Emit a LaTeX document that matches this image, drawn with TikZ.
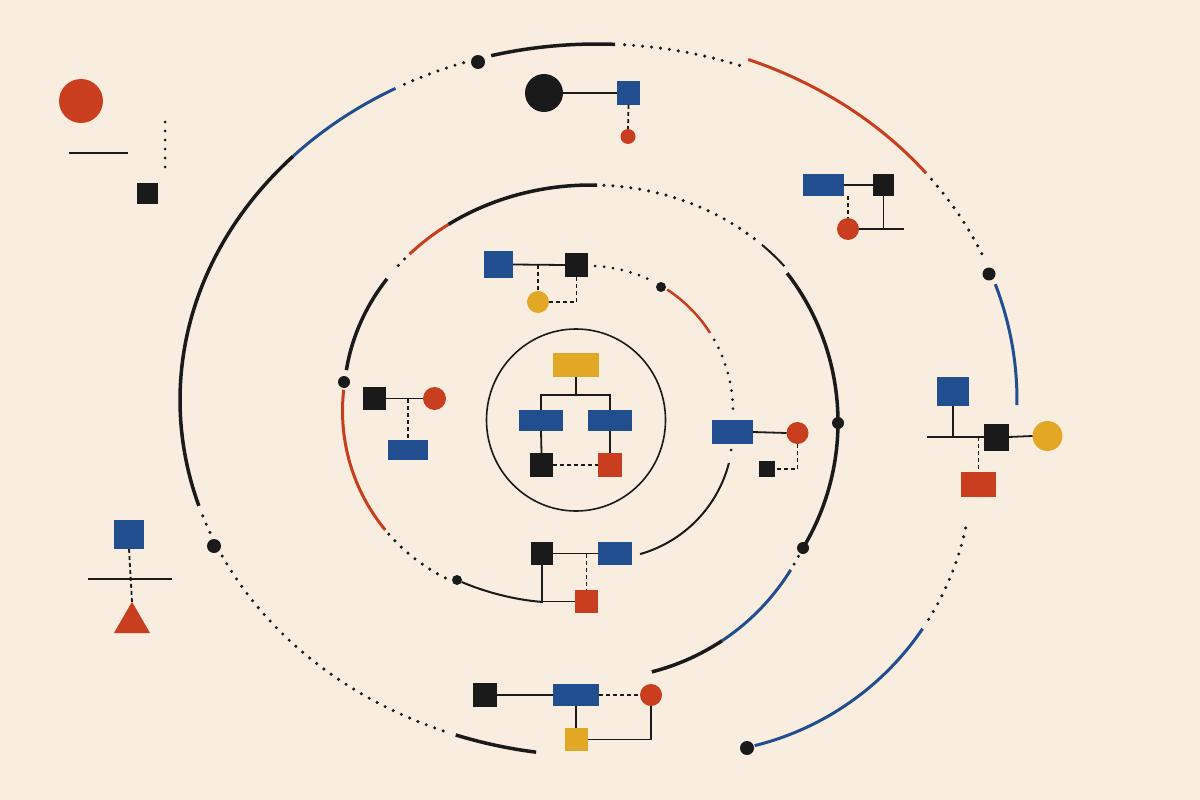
\documentclass[tikz,border=0pt]{standalone}
\usetikzlibrary{shapes.geometric}
\definecolor{bgc}{RGB}{248,237,222}
\definecolor{cred}{RGB}{200,62,30}
\definecolor{cblue}{RGB}{32,78,142}
\definecolor{cyel}{RGB}{227,167,38}
\definecolor{cblk}{RGB}{26,26,26}
\begin{document}
\begin{tikzpicture}[x=1pt,y=-1pt,
  shp/.style={inner sep=0pt,outer sep=0pt,draw=none},
  sqk/.style={shp,rectangle,fill=cblk},
  sqb/.style={shp,rectangle,fill=cblue},
  sqr/.style={shp,rectangle,fill=cred},
  sqy/.style={shp,rectangle,fill=cyel},
  wh/.style 2 args={minimum width=#1pt,minimum height=#2pt},
  dotk/.style={shp,circle,fill=cblk},
  dotr/.style={shp,circle,fill=cred},
  doty/.style={shp,circle,fill=cyel},
  conn/.style={draw=cblk,line width=1.8pt},
  dsh/.style={conn,dash pattern=on 4pt off 3pt},
  pts/.style={draw=cblk,line width=3.4pt,line cap=round,dash pattern=on 0pt off 9pt},
  spts/.style={draw=cblk,line width=3pt,line cap=round,dash pattern=on 0pt off 9pt},
  rk/.style={draw=cblk,line width=3.5pt},
  rr/.style={draw=cred,line width=3pt},
  rb/.style={draw=cblue,line width=3pt},
  tk/.style={draw=cblk,line width=2pt},
  bar/.style={draw=cblk,line width=2.6pt},
]
\fill[bgc] (0,0) rectangle (1200,800);
\useasboundingbox (0,0) rectangle (1200,800);

% ---------- outer ring ----------
\draw[rk] (597,400) ++(223.2:417 and 356) arc[start angle=223.2,end angle=162.7,x radius=417,y radius=356];
\draw[rb] (597,400) ++(223.2:417 and 356) arc[start angle=223.2,end angle=241.1,x radius=417,y radius=356];
\draw[pts] (597,400) ++(242.5:417 and 356) arc[start angle=242.5,end angle=251.5,x radius=417,y radius=356];
\draw[rk] (597,400) ++(255.3:417 and 356) arc[start angle=255.3,end angle=272.5,x radius=417,y radius=356];
\draw[pts] (597,400) ++(273.8:417 and 356) arc[start angle=273.8,end angle=290,x radius=417,y radius=356];
\draw[rr] (597,400) ++(-68.9:420 and 365) arc[start angle=-68.9,end angle=-38.4,x radius=420,y radius=365];
\draw[pts] (597,400) ++(-37.2:420 and 365) arc[start angle=-37.2,end angle=-23,x radius=420,y radius=365];
\draw[rb] (597,400) ++(-18.5:420 and 365) arc[start angle=-18.5,end angle=0.8,x radius=420,y radius=365];
\draw[pts] (686,468) ++(12.1:286) arc[start angle=12.1,end angle=32.3,radius=286];
\draw[rb] (686,468) ++(34.2:286) arc[start angle=34.2,end angle=76.1,radius=286];
\draw[pts] (597,400) ++(161:417 and 356) arc[start angle=161,end angle=158,x radius=417,y radius=356];
\draw[pts] (597,400) ++(154:417 and 356) arc[start angle=154,end angle=111,x radius=417,y radius=356];
\draw[rk] (597,400) ++(109.8:417 and 356) arc[start angle=109.8,end angle=98.4,x radius=417,y radius=356];

% ---------- middle ring ----------
\draw[rr] (591,400) ++(-137.3:247 and 215) arc[start angle=-137.3,end angle=-125.2,x radius=247,y radius=215];
\draw[rk] (591,400) ++(-125.2:247 and 215) arc[start angle=-125.2,end angle=-88.6,x radius=247,y radius=215];
\draw[pts] (591,400) ++(-87:247 and 215) arc[start angle=-87,end angle=-48,x radius=247,y radius=215];
\draw[tk] (591,400) ++(-46.2:247 and 215) arc[start angle=-46.2,end angle=-38.5,x radius=247,y radius=215];
\draw[pts] (591,400) ++(-139:247 and 215) arc[start angle=-139,end angle=-143.5,x radius=247,y radius=215];
\draw[rk] (591,400) ++(-145.7:247 and 215) arc[start angle=-145.7,end angle=-172,x radius=247,y radius=215];
\draw[rr] (529.5,411) ++(186.5:187) arc[start angle=186.5,end angle=140.5,radius=187];
\draw[pts] (529.5,411) ++(138.8:187) arc[start angle=138.8,end angle=116,radius=187];
\draw[rk] (594.3,422.2) ++(-37.7:243.7) arc[start angle=-37.7,end angle=31.1,radius=243.7];
\draw[pts] (595,449) ++(27.8:230) arc[start angle=27.8,end angle=30.1,radius=230];
\draw[rb] (595,449) ++(31.7:230) arc[start angle=31.7,end angle=56.5,radius=230];
\draw[rk] (595,449) ++(56.5:230) arc[start angle=56.5,end angle=75.7,radius=230];

% ---------- inner ring ----------
\draw[spts] (587.5,411.3) ++(-87:145.5) arc[start angle=-87,end angle=-63.1,radius=145.5];
\draw[draw=cred,line width=2.5pt] (587.5,411.3) ++(-56.8:145.5) arc[start angle=-56.8,end angle=-32.6,radius=145.5];
\draw[spts] (587.5,411.3) ++(-29.4:145.5) arc[start angle=-29.4,end angle=0.6,radius=145.5];
\draw[spts] (731,450) -- (730,458);
\draw[tk] (605,431) ++(14.5:128) arc[start angle=14.5,end angle=74.1,radius=128];

% ---------- central circle ----------
\draw[cblk,line width=1.6pt] (576,420) circle[x radius=89.5,y radius=91];

% ---------- ring dots ----------
\node[dotk,minimum size=14pt] (d1) at (478,62) {};
\node[dotk,minimum size=13pt] (d2) at (989,274) {};
\node[dotk,minimum size=14pt] (d3) at (214,546) {};
\node[dotk,minimum size=14pt] (d4) at (747,748) {};
\node[dotk,minimum size=12pt] (d5) at (344,382) {};
\node[dotk,minimum size=12pt] (d6) at (838,423) {};
\node[dotk,minimum size=12pt] (d7) at (803,548) {};
\node[dotk,minimum size=10pt] (d8) at (661,287) {};
\node[dotk,minimum size=10pt] (d9) at (457,580) {};

% ---------- group A (top left) ----------
\node[dotr,minimum size=44pt] (ra) at (81,101) {};
\node[sqk,wh={21}{21}] (ka) at (147.5,193.5) {};
\coordinate (al1) at (69,153); \coordinate (al2) at (128,153);
\draw[bar] (al1) -- (al2);
\coordinate (av1) at (165,122); \coordinate (av2) at (165,167);
\draw[spts] (av1) -- (av2);

% ---------- group B (top) ----------
\node[dotk,minimum size=38pt] (kb) at (544,93) {};
\node[sqb,wh={23}{24}] (bb) at (628.5,93) {};
\node[dotr,minimum size=15pt] (rb) at (628,136.5) {};
\draw[conn] (kb.east) -- (bb.west);
\draw[dsh] (bb.south) -- (rb.north);

% ---------- group C (top right) ----------
\node[sqb,wh={41}{22}] (bc) at (823.5,185) {};
\node[sqk,wh={21}{22}] (kc) at (883.5,185) {};
\node[dotr,minimum size=22pt] (rc) at (848,229) {};
\coordinate (ce) at (904,229);
\draw[conn] (bc.east) -- (kc.west);
\draw[dsh] (bc.south -| rc) -- (rc.north);
\draw[conn] (kc.south) -- (kc.south |- rc);
\draw[conn] (rc.east) -- (ce);

% ---------- group D (inner ring top) ----------
\node[sqb,wh={29}{27}] (bd) at (498.5,264.5) {};
\node[sqk,wh={23}{24}] (kd) at (576.5,265) {};
\node[doty,minimum size=22pt] (yd) at (538,302) {};
\draw[conn] (bd.east) -- (kd.west);
\draw[dsh] (bd.east -| yd) -- (yd.north);
\draw[dsh] (yd.east) -| (kd.south);

% ---------- group E (left) ----------
\node[sqk,wh={23}{23}] (ke) at (374.5,398.5) {};
\node[dotr,minimum size=23pt] (re) at (434.5,398.5) {};
\node[sqb,wh={40}{20}] (be) at (408,450) {};
\draw[conn] (ke.east) -- (re.west);
\draw[dsh] (ke.east -| be) -- (be.north);

% ---------- central tree ----------
\node[sqy,wh={46}{24}] (yc) at (576,365) {};
\node[sqb,wh={44}{21}] (b1) at (541,420.5) {};
\node[sqb,wh={44}{21}] (b2) at (610,420.5) {};
\node[sqk,wh={23}{24}] (k1) at (541.5,465) {};
\node[sqr,wh={24}{24}] (r1) at (610,465) {};
\coordinate (yj) at (576,395);
\draw[conn] (yc.south) -- (yj);
\draw[conn] (b1.north) |- (yj) -| (b2.north);
\draw[conn] (b1.south) -- (k1.north);
\draw[conn] (b2.south) -- (r1.north);
\draw[dsh] (k1.east) -- (r1.west);

% ---------- group F (right of centre) ----------
\node[sqb,wh={41}{24}] (bf) at (732.5,432) {};
\node[dotr,minimum size=22pt] (rf) at (797.5,433) {};
\node[sqk,wh={16}{16}] (kf) at (767,469) {};
\draw[conn] (bf.east) -- (rf.west);
\draw[dsh] (rf.south) |- (kf.east);

% ---------- group G (far right) ----------
\node[sqb,wh={32}{29}] (bg) at (953,391.5) {};
\node[sqk,wh={25}{27}] (kg) at (996,437) {};
\node[doty,minimum size=30pt] (yg) at (1047.5,436) {};
\node[sqr,wh={35}{25}] (rg) at (978.5,484.5) {};
\coordinate (gl) at (927,437);
\draw[bar] (gl) -- (kg.west);
\draw[conn] (kg.east) -- (yg.west);
\draw[conn] (bg.south) -- (bg.south |- gl);
\draw[dsh] (kg.west -| rg) -- (rg.north);

% ---------- group H (bottom of middle ring) ----------
\node[sqk,wh={22}{23}] (kh) at (542,553.5) {};
\node[sqb,wh={34}{23}] (bh) at (615,553.5) {};
\node[sqr,wh={23}{23}] (rh) at (586.5,601.5) {};
\coordinate (hj) at (543,602);
\draw[conn] (kh.east) -- (bh.west);
\draw[dsh] (kh.east -| rh) -- (rh.north);
\draw[conn] (kh.south) |- (rh.west);
\draw[tk] (d9) .. controls (485,592) and (515,600) .. (hj);

% ---------- group I (bottom) ----------
\node[sqk,wh={24}{24}] (ki) at (485,695) {};
\node[sqb,wh={46}{22}] (bi) at (576,695) {};
\node[dotr,minimum size=22pt] (ri) at (651,695) {};
\node[sqy,wh={23}{23}] (yi) at (576,739.5) {};
\draw[conn] (ki.east) -- (bi.west);
\draw[dsh] (bi.east) -- (ri.west);
\draw[conn] (bi.south) -- (yi.north);
\draw[conn] (yi.east) -| (ri.south);

% ---------- group J (bottom left) ----------
\node[sqb,wh={30}{29}] (bj) at (129,534.5) {};
\node[shp,regular polygon,regular polygon sides=3,fill=cred,minimum size=41.6pt] (tj) at (132,622.6) {};
\coordinate (jl1) at (88,579); \coordinate (jl2) at (172,579);
\draw[dsh] (bj.south) -- (tj.north);
\draw[bar] (jl1) -- (jl2);
\end{tikzpicture}
\end{document}
